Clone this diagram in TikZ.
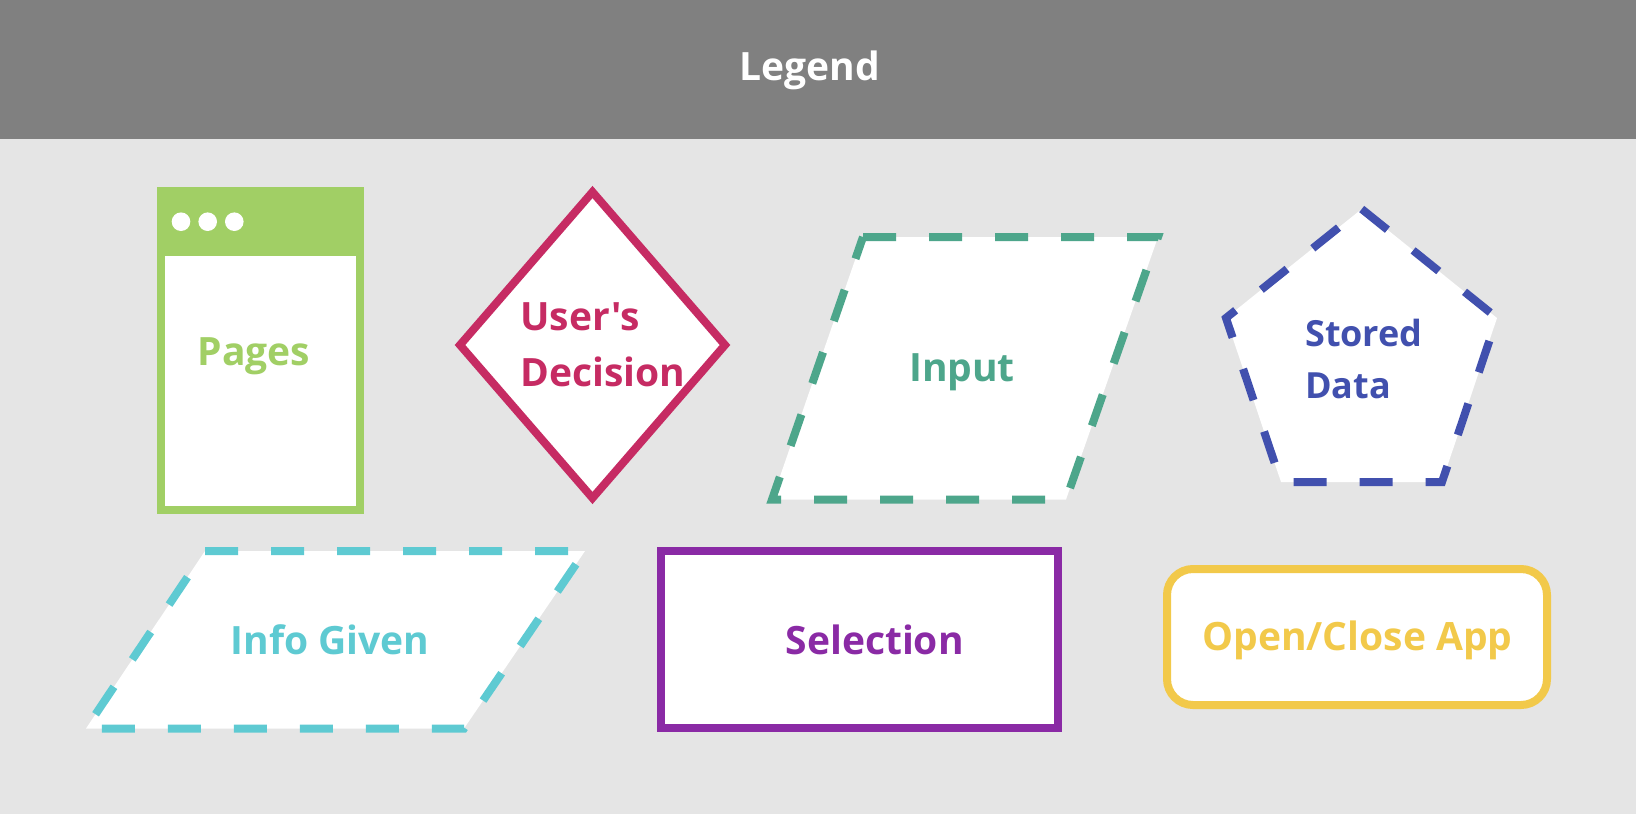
\documentclass[tikz,border=0pt]{standalone}
\usepackage{fontspec}
\newfontfamily\osans{Open Sans}
\definecolor{bgc}{HTML}{E5E5E5}
\definecolor{hdr}{HTML}{808080}
\definecolor{cpage}{HTML}{A1CF65}
\definecolor{cdec}{HTML}{C62B63}
\definecolor{cinp}{HTML}{4DA68B}
\definecolor{csto}{HTML}{4150AE}
\definecolor{cinf}{HTML}{5ECAD2}
\definecolor{csel}{HTML}{8A2AA5}
\definecolor{copen}{HTML}{F2C94A}
\tikzset{
  lbl/.style={font=\osans\fontsize{39}{56}\selectfont\bfseries, inner sep=0pt},
  shp/.style={line width=8pt, fill=white, line join=miter},
  dsh/.style={shp, dash pattern=on 33pt off 33pt},
}
\begin{document}
\begin{tikzpicture}[x=1pt,y=-1pt]
\useasboundingbox (0,0) rectangle (1636,814);
\fill[bgc] (0,0) rectangle (1636,814);
\fill[hdr] (0,0) rectangle (1636,139);
\node[lbl, text=white, anchor=base] (legend) at (809.5,80.7) {Legend};
% Pages
\draw[shp, draw=cpage] (161,191) rectangle (360,510);
\fill[cpage] (157,187) rectangle (364,256);
\fill[white] (181,221.7) circle (9.3) (207.7,221.7) circle (9.3) (234.3,221.7) circle (9.3);
\node[lbl, text=cpage, anchor=base] (pages) at (253.8,365) {Pages};
% Decision
\draw[shp, draw=cdec] (592.5,192) -- (725,345) -- (592.5,498) -- (460,345) -- cycle;
\node[lbl, text=cdec, anchor=base west, align=left] (dec) at (520,386) {User's\\Decision};
% Input
\draw[dsh, draw=cinp] (863,237) -- (1158,237) -- (1066,499.5) -- (772,499.5) -- cycle;
\node[lbl, text=cinp, anchor=base] (inp) at (962,381.7) {Input};
% Stored data
\draw[dsh, draw=csto] (1361.7,209) -- (1497,318) -- (1442,482) -- (1281,482) -- (1226,318) -- cycle;
\node[lbl, font=\osans\fontsize{36}{51.6}\selectfont\bfseries, text=csto, anchor=base west, align=left] (sto) at (1305,398.3) {Stored\\Data};
% Info given
\draw[dsh, draw=cinf] (205,551) -- (585,551) -- (464,728.5) -- (86,728.5) -- cycle;
\node[lbl, text=cinf, anchor=base] (inf) at (330,654.3) {Info Given};
% Selection
\draw[shp, draw=csel] (661,551) rectangle (1058,728);
\node[lbl, text=csel, anchor=base] (sel) at (874.7,654.3) {Selection};
% Open/Close
\draw[shp, draw=copen, rounded corners=26pt] (1167,569) rectangle (1547,705);
\node[lbl, text=copen, anchor=base] (opn) at (1357.5,650.7) {Open/Close App};
\end{tikzpicture}
\end{document}
